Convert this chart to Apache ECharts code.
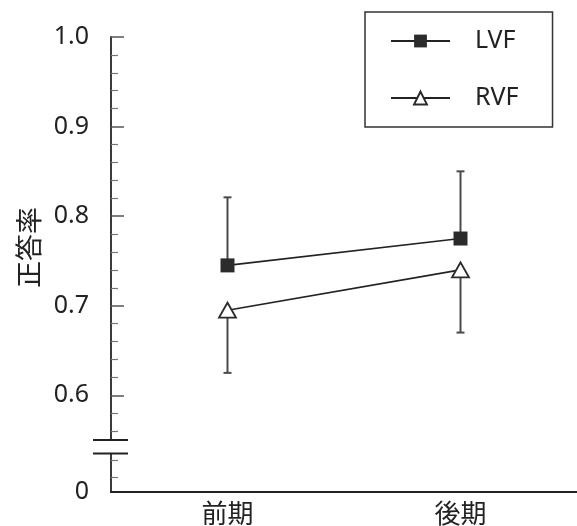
<!DOCTYPE html>
<html>
<head>
<meta charset="utf-8">
<script src="https://cdn.jsdelivr.net/npm/echarts@6/dist/echarts.min.js"></script>
<style>
html, body { margin: 0; padding: 0; background: #fff; }
#main { width: 577px; height: 526px; }
</style>
</head>
<body>
<div id="main"></div>
<script>
// data
var categories = ['前期', '後期'];
var lvf = [0.745, 0.775];
var rvf = [0.695, 0.740];
var lvfErr = [0.076, 0.075];   // upward bars
var rvfErr = [0.070, 0.070];   // downward bars
var yTicks = [0.6, 0.7, 0.8, 0.9, 1.0];
var yLabels = ['0', '0.6', '0.7', '0.8', '0.9', '1.0'];
// the axis is broken: real 0 sits at this axis value
var zeroPos = 0.492;
var minorTicks = [0.509, 0.527, 0.56, 0.58, 0.62, 0.64, 0.66, 0.68, 0.72, 0.74, 0.76, 0.78,
                  0.82, 0.84, 0.86, 0.88, 0.92, 0.94, 0.96, 0.98];
var breakVals = [0.535, 0.55];
var xPos = [1, 3];   // category slots on a 0..4 axis

var ink = '#222';
var latin = 'Noto Sans';
var cjk = 'Noto Sans CJK JP';

function pts(vals) {
  return vals.map(function (v, i) { return [xPos[i], v]; });
}

function errorSeries(name, vals, errs, dir) {
  return {
    type: 'custom',
    name: name,
    silent: true,
    z: 1,
    renderItem: function (params, api) {
      var x = api.value(0), v = api.value(1), e = api.value(2);
      var p0 = api.coord([x, v]);
      var p1 = api.coord([x, v + dir * e]);
      var st = { stroke: '#4a4a4a', lineWidth: 2 };
      return {
        type: 'group',
        children: [
          { type: 'line', shape: { x1: p0[0], y1: p0[1], x2: p1[0], y2: p1[1] }, style: st },
          { type: 'line', shape: { x1: p1[0] - 4, y1: p1[1], x2: p1[0] + 4, y2: p1[1] }, style: st }
        ]
      };
    },
    data: vals.map(function (v, i) { return [xPos[i], v, errs[i]]; })
  };
}

var labelVals = [zeroPos].concat(yTicks);

var option = {
  animation: false,
  grid: { left: 111, top: 37, right: 0, bottom: 34, outerBoundsMode: 'none' },
  legend: {
    orient: 'vertical',
    left: 365,
    top: 12,
    data: ['LVF', 'RVF'],
    selectedMode: false,
    itemWidth: 59,
    itemHeight: 16,
    itemGap: 31,
    padding: [16, 34, 16, 25],
    borderColor: '#333',
    borderWidth: 1.5,
    textStyle: { fontSize: 25, fontFamily: latin, color: ink, lineHeight: 26, padding: [0, 0, 0, 20] }
  },
  xAxis: {
    type: 'value',
    min: 0,
    max: 4,
    splitLine: { show: false },
    axisLine: { lineStyle: { color: ink, width: 2 } },
    axisTick: { show: false },
    axisLabel: {
      customValues: xPos,
      margin: 8,
      fontSize: 26,
      fontFamily: cjk,
      color: ink,
      formatter: function (v) { return categories[xPos.indexOf(v)]; }
    }
  },
  yAxis: [{
    type: 'value',
    position: 'left',
    min: zeroPos,
    max: 1.0,
    name: '正答率',
    nameLocation: 'middle',
    nameGap: 69,
    nameTextStyle: { fontSize: 27, fontFamily: cjk, color: ink, padding: [0, 0, 0, 34] },
    splitLine: { show: false },
    axisLine: { show: true, lineStyle: { color: '#3a3a3a', width: 2 } },
    axisTick: { show: true, inside: true, length: 13, customValues: yTicks, lineStyle: { color: '#555', width: 1.5 } },
    axisLabel: {
      customValues: labelVals,
      showMinLabel: true,
      showMaxLabel: true,
      margin: 22,
      fontSize: 25,
      fontFamily: latin,
      color: ink,
      formatter: function (v) { return yLabels[labelVals.indexOf(v)]; }
    }
  }, {
    type: 'value',
    position: 'left',
    min: zeroPos,
    max: 1.0,
    splitLine: { show: false },
    axisLine: { show: false },
    axisLabel: { show: false },
    axisTick: { show: true, inside: true, length: 7, customValues: minorTicks, lineStyle: { color: '#777', width: 1.2 } }
  }],
  series: [
    errorSeries('LVF-err', lvf, lvfErr, 1),
    errorSeries('RVF-err', rvf, rvfErr, -1),
    {
      name: 'LVF',
      type: 'line',
      z: 3,
      data: pts(lvf),
      symbol: 'rect',
      symbolSize: 14,
      lineStyle: { color: ink, width: 1.6 },
      itemStyle: { color: '#2b2b2b' }
    },
    {
      name: 'RVF',
      type: 'line',
      z: 3,
      data: pts(rvf),
      symbol: 'triangle',
      symbolSize: [17, 15],
      lineStyle: { color: ink, width: 1.6 },
      itemStyle: { color: '#fff', borderColor: '#2b2b2b', borderWidth: 1.8 }
    }
  ]
};

var chart = echarts.init(document.getElementById('main'));
chart.setOption(option);

// axis break marks, placed through the axis scale
var ax = chart.convertToPixel({ xAxisIndex: 0 }, 0);
var yHi = chart.convertToPixel({ yAxisIndex: 0 }, breakVals[1]);
var yLo = chart.convertToPixel({ yAxisIndex: 0 }, breakVals[0]);
var brk = { stroke: ink, lineWidth: 2 };
chart.setOption({
  graphic: [
    { type: 'rect', z: 100, shape: { x: ax - 4, y: yHi, width: 8, height: yLo - yHi }, style: { fill: '#fff' } },
    { type: 'line', z: 101, shape: { x1: ax - 18, y1: yHi, x2: ax + 17, y2: yHi }, style: brk },
    { type: 'line', z: 101, shape: { x1: ax - 18, y1: yLo, x2: ax + 17, y2: yLo }, style: brk }
  ]
});
</script>
</body>
</html>
